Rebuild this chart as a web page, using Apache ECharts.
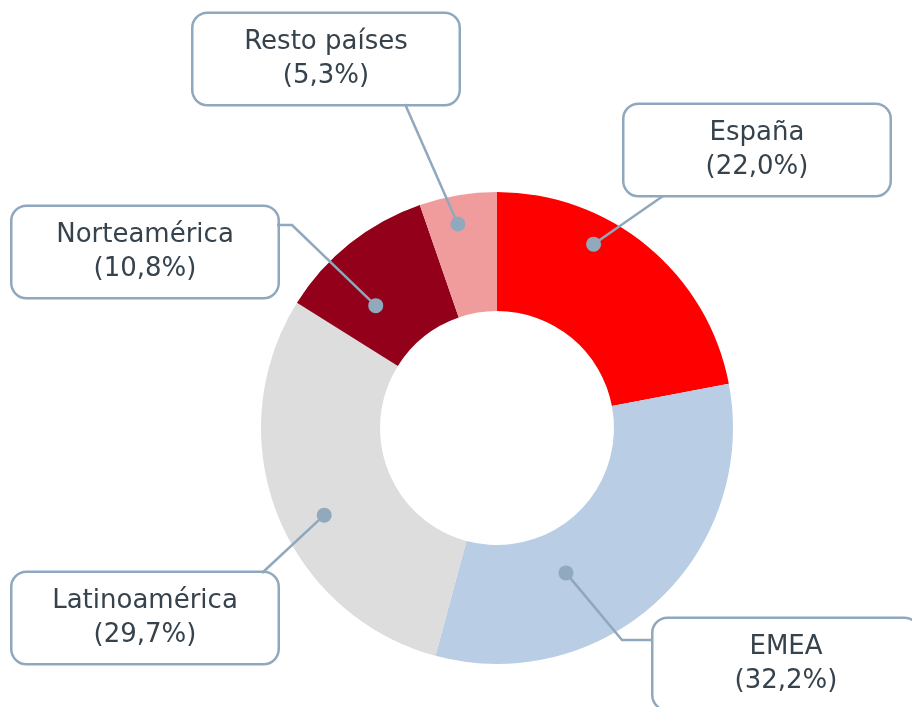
<!DOCTYPE html>
<html>
<head>
<meta charset="utf-8">
<script src="https://cdn.jsdelivr.net/npm/echarts@6/dist/echarts.min.js"></script>
<style>
  html, body { margin: 0; background: #fff; }
  #main { width: 912px; height: 707px; }
</style>
</head>
<body>
<div id="main"></div>
<script>
const regions = ['España', 'EMEA', 'Latinoamérica', 'Norteamérica', 'Resto países']
const shares = [22.0, 32.2, 29.7, 10.8, 5.3]
const colors = ['#ff0000', '#b9cde5', '#dddddd', '#92001a', '#f09c9c']

const center = [497, 428]
const radius = [117, 236]
// donde arranca la línea guía dentro de cada porción: [fracción del ángulo, fracción del radio]
const anchorPos = [[0.35, 0.88], [0.65, 0.68], [0.45, 0.82], [0.34, 0.73], [0.43, 0.88]]
// centro de cada caja de etiqueta y final (con codo) de la línea guía
const boxes = [
  { x: 757, y: 150, line: [[663, 196]] },
  { x: 786, y: 664, line: [[622, 640], [653, 640]] },
  { x: 145, y: 618, line: [[262, 573]] },
  { x: 145, y: 252, line: [[292, 225], [277, 225]] },
  { x: 326, y: 59, line: [[405, 104]] }
]

const total = shares.reduce((a, b) => a + b, 0)
let acc = 0
const anchors = shares.map((v, i) => {
  const a = (acc + v * anchorPos[i][0]) / total * 2 * Math.PI
  acc += v
  const r = radius[1] * anchorPos[i][1]
  return [center[0] + r * Math.sin(a), center[1] - r * Math.cos(a)]
})

const lineColor = '#8fa8bd'
let chart = echarts.init(document.getElementById('main'))

// líneas guía y puntos encima de las porciones
let guides = []
anchors.forEach((p, i) => {
  guides.push({
    type: 'polyline',
    shape: { points: [p].concat(boxes[i].line) },
    style: { stroke: lineColor, lineWidth: 2.5, fill: null },
    z: 100
  })
  guides.push({
    type: 'circle',
    shape: { cx: p[0], cy: p[1], r: 7.5 },
    style: { fill: '#91a9bc' },
    z: 101
  })
})

let option = {
  animation: false,
  series: [{
    type: 'pie',
    center: center,
    radius: radius,
    startAngle: 90,
    avoidLabelOverlap: false,
    silent: true,
    data: regions.map((name, i) => ({
      name: name,
      value: shares[i],
      itemStyle: { color: colors[i] }
    })),
    itemStyle: { borderWidth: 0 },
    label: {
      show: true,
      position: 'outside',
      formatter: function (p) {
        return p.name + '\n(' + p.value.toFixed(1).replace('.', ',') + '%)'
      },
      fontFamily: 'DejaVu Sans',
      fontSize: 26,
      lineHeight: 34,
      color: '#36424c',
      width: 225,
      align: 'center',
      backgroundColor: '#fff',
      borderColor: lineColor,
      borderWidth: 2.5,
      borderRadius: 14,
      padding: [11, 20]
    },
    labelLine: { show: false },
    labelLayout: function (params) {
      const b = boxes[params.dataIndex]
      return {
        x: b.x,
        y: b.y,
        align: 'center',
        verticalAlign: 'middle'
      }
    }
  }],
  graphic: guides
}
chart.setOption(option)
window.addEventListener('resize', function () {
  chart.resize()
})
</script>
</body>
</html>
